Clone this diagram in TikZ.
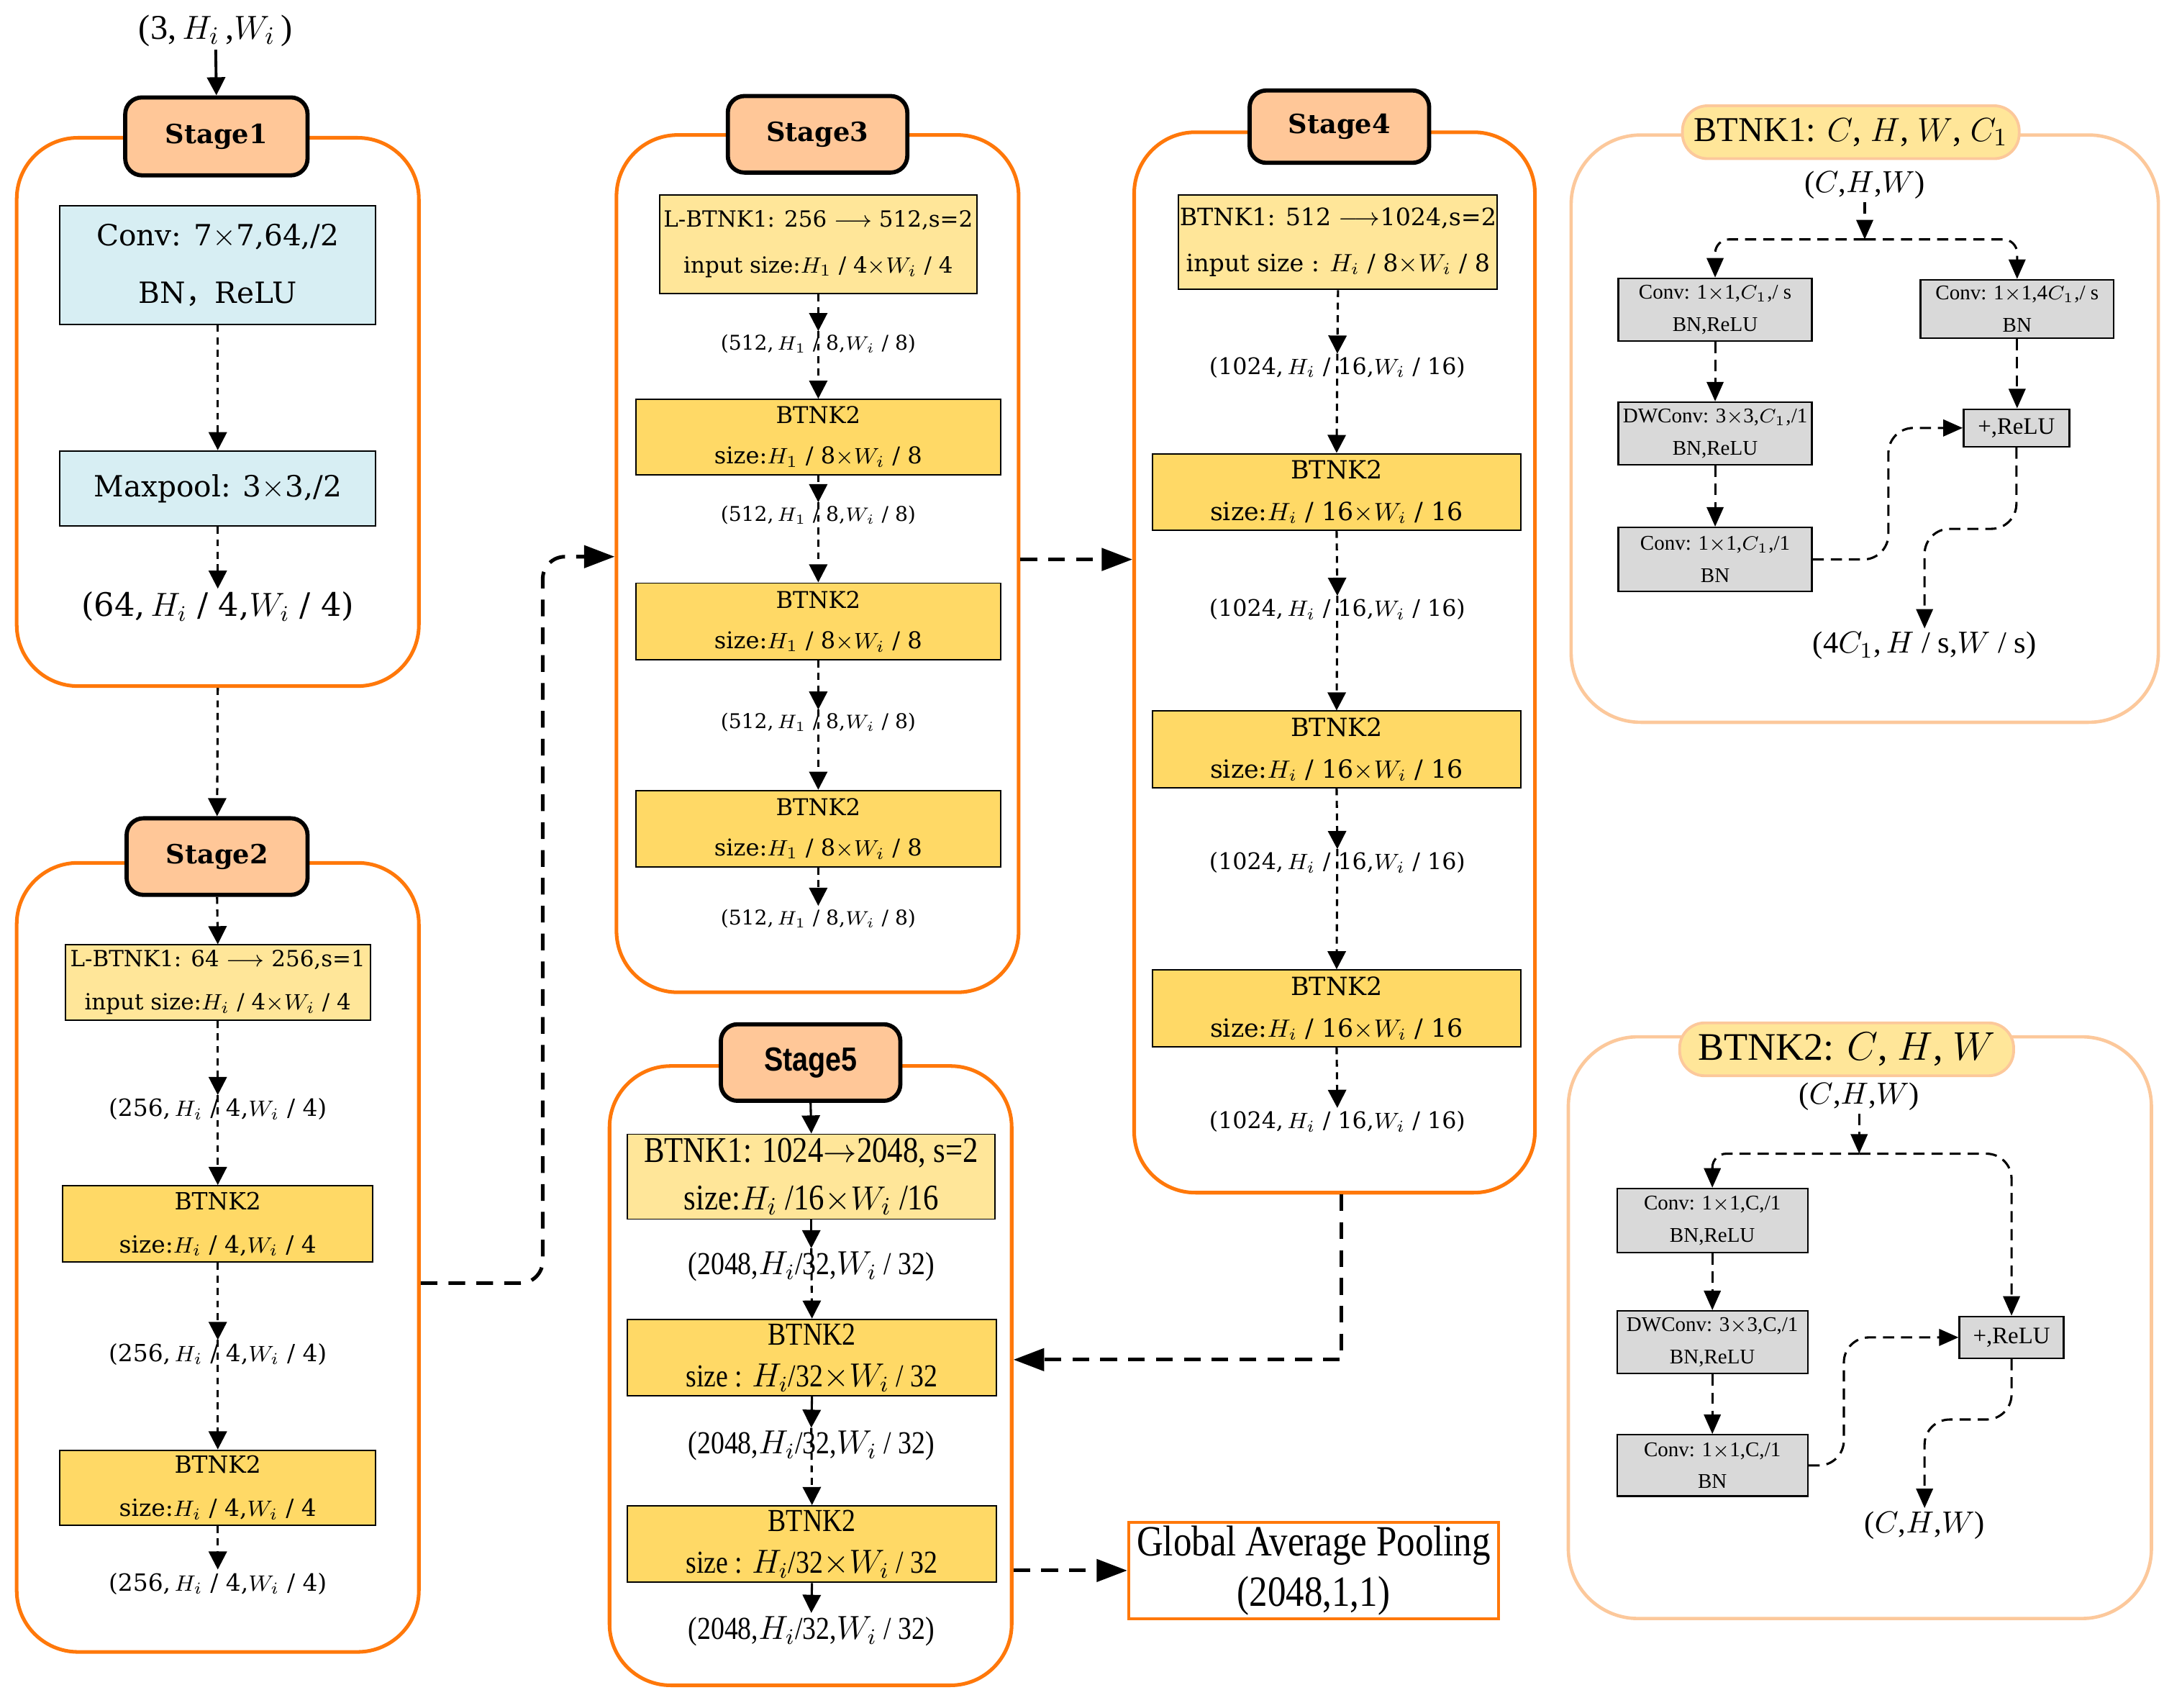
\documentclass[tikz,border=0pt]{standalone}
\usepackage{fontspec}
\setmainfont{Liberation Serif}
\newfontfamily\dvs{DejaVu Serif}
\newfontfamily\cond[FakeStretch=0.85]{Liberation Serif}
\newfontfamily\sansc[FakeStretch=0.85]{Liberation Sans}
\newfontfamily\cjk{Noto Sans CJK SC}
\usetikzlibrary{arrows.meta}
\definecolor{stor}{RGB}{255,120,10}
\definecolor{peach}{RGB}{255,199,152}
\definecolor{lblue}{RGB}{215,238,243}
\definecolor{lyel}{RGB}{255,230,153}
\definecolor{gold}{RGB}{255,217,102}
\definecolor{pgray}{RGB}{217,217,217}
\definecolor{pbord}{RGB}{252,200,155}
\newcommand\fs[2]{\fontsize{#1}{#2}\selectfont}
\begin{document}
\begin{tikzpicture}[x=0.5pt,y=-0.5pt,
  rect/.style args={#1,#2,#3,#4}{minimum width={(#3-#1)*0.5pt}, minimum height={(#4-#2)*0.5pt}, at={({(#1+#3)/2},{(#2+#4)/2})}},
  stagebox/.style={draw=stor, line width=1.3pt, rounded corners=22pt, inner sep=0pt},
  stagetab/.style={draw=black, line width=1.5pt, fill=peach, rounded corners=6pt, inner sep=0pt, font={\dvs\bfseries\fs{9.5}{11}}},
  bluebox/.style={draw=black, line width=0.5pt, fill=lblue, inner sep=0pt, align=center},
  lybox/.style={draw=black, line width=0.5pt, fill=lyel, inner sep=0pt, align=center},
  gbox/.style={draw=black, line width=0.5pt, fill=gold, inner sep=0pt, align=center},
  lab/.style={inner sep=1pt},
  arr/.style={-{Triangle[length=6.5pt,width=6.5pt]}},
  dsh/.style={line width=0.8pt, dash pattern=on 2.5pt off 2pt},
  big/.style={line width=1.3pt, dash pattern=on 6pt off 4pt, -{Triangle[length=11pt,width=8pt]}},
  panel/.style={draw=pbord, line width=1.2pt, rounded corners=25pt, inner sep=0pt},
  ptab/.style={draw=pbord, line width=1pt, fill=lyel, rounded corners=9pt, inner sep=0pt},
  pbox/.style={draw=black, line width=0.6pt, fill=pgray, inner sep=0pt, align=center, font={\fs{7.5}{11.5}}},
  pdsh/.style={line width=0.8pt, dash pattern=on 4pt off 2.5pt},
  parr/.style={-{Triangle[length=7pt,width=6pt]}}
]
\fill[white] (0,0) rectangle (1568,1227);
\useasboundingbox (0,0) rectangle (1568,1227);

% ---------------- Stage 1
\node[lab, font={\fs{12.5}{14}}] (in1) at (155,22) {(3,\,$H_i$\,,$W_i$\,)};
\node[stagebox, rect={12,99,301,493}] (s1o) {};
\node[stagetab, rect={90,70,221,126}] (s1t) {Stage1};
\node[bluebox, rect={43,148,270,233}, font={\dvs\fs{10.5}{20.5}}] (s1c) {Conv: 7$\times$7,64,/2\\BN{\cjk ，}ReLU};
\node[bluebox, rect={43,324,270,378}, font={\dvs\fs{10.5}{12}}] (s1p) {Maxpool: 3$\times$3,/2};
\node[lab, font={\dvs\fs{11.6}{13}}] (s1l) at (156.5,436) {(64,\,$H_i$ / 4,$W_i$ / 4)};
\draw[arr, line width=1pt] (in1.south) -- (s1t.north);
\draw[dsh,arr] (s1c.south) -- (s1p.north);
\draw[dsh,arr] (s1p.south) -- (s1l.north);

% ---------------- Stage 2
\node[stagebox, rect={12,620,301,1187}] (s2o) {};
\node[stagetab, rect={91,588,221,643}] (s2t) {Stage2};
\node[lybox, rect={47,679,266,733}, font={\dvs\fs{8}{15.5}}] (s2b1) {L-BTNK1: 64 $\longrightarrow$ 256,s=1\\input size:$H_i$ / 4$\times$$W_i$ / 4};
\node[lab, font={\dvs\fs{8.5}{10}}] (s2l1) at (156.5,797) {(256,\,$H_i$ / 4,$W_i$ / 4)};
\node[gbox, rect={45,852,268,907}, font={\dvs\fs{8.5}{15.5}}] (s2b2) {BTNK2\\size:$H_i$ / 4,$W_i$ / 4};
\node[lab, font={\dvs\fs{8.5}{10}}] (s2l2) at (156.5,973) {(256,\,$H_i$ / 4,$W_i$ / 4)};
\node[gbox, rect={43,1042,270,1096}, font={\dvs\fs{8.5}{15.5}}] (s2b3) {BTNK2\\size:$H_i$ / 4,$W_i$ / 4};
\node[lab, font={\dvs\fs{8.5}{10}}] (s2l3) at (156.5,1138) {(256,\,$H_i$ / 4,$W_i$ / 4)};
\draw[dsh,arr] (s1o.south) -- (s2t.north);
\draw[dsh,arr] (s2t.south) -- (s2b1.north);
\draw[dsh,arr] (s2b1.south) -- (s2l1.north);
\draw[dsh,arr] (s2l1.north) -- (s2b2.north);
\draw[dsh,arr] (s2b2.south) -- (s2l2.north);
\draw[dsh,arr] (s2l2.north) -- (s2b3.north);
\draw[dsh,arr] (s2b3.south) -- (s2l3.north);

% ---------------- Stage 3
\node[stagebox, rect={443,97,732,713}] (s3o) {};
\node[stagetab, rect={523,69,652,124}] (s3t) {Stage3};
\node[lybox, rect={474,140,702,211}, font={\dvs\fs{8}{16.5}}] (s3b1) {L-BTNK1: 256 $\longrightarrow$ 512,s=2\\input size:$H_1$ / 4$\times$$W_i$ / 4};
\node[lab, font={\dvs\fs{7.3}{9}}] (s3l1) at (588,247) {(512,\,$H_1$ / 8,$W_i$ / 8)};
\node[gbox, rect={457,287,719,341}, font={\dvs\fs{8.3}{14.5}}] (s3b2) {BTNK2\\size:$H_1$ / 8$\times$$W_i$ / 8};
\node[lab, font={\dvs\fs{7.3}{9}}] (s3l2) at (588,370) {(512,\,$H_1$ / 8,$W_i$ / 8)};
\node[gbox, rect={457,419,719,474}, font={\dvs\fs{8.3}{14.5}}] (s3b3) {BTNK2\\size:$H_1$ / 8$\times$$W_i$ / 8};
\node[lab, font={\dvs\fs{7.3}{9}}] (s3l3) at (588,519) {(512,\,$H_1$ / 8,$W_i$ / 8)};
\node[gbox, rect={457,568,719,623}, font={\dvs\fs{8.3}{14.5}}] (s3b4) {BTNK2\\size:$H_1$ / 8$\times$$W_i$ / 8};
\node[lab, font={\dvs\fs{7.3}{9}}] (s3l4) at (588,660) {(512,\,$H_1$ / 8,$W_i$ / 8)};
\draw[dsh,arr] (s3b1.south) -- (s3l1.north);
\draw[dsh,arr] (s3l1.north) -- (s3b2.north);
\draw[dsh,arr] (s3b2.south) -- (s3l2.north);
\draw[dsh,arr] (s3l2.north) -- (s3b3.north);
\draw[dsh,arr] (s3b3.south) -- (s3l3.north);
\draw[dsh,arr] (s3l3.north) -- (s3b4.north);
\draw[dsh,arr] (s3b4.south) -- (s3l4.north);

% ---------------- Stage 4
\node[stagebox, rect={815,95,1103,857}] (s4o) {};
\node[stagetab, rect={898,65,1027,117}] (s4t) {Stage4};
\node[lybox, rect={847,140,1076,208}, font={\dvs\fs{8.6}{16.5}}] (s4b1) {BTNK1: 512 $\longrightarrow$1024,s=2\\input size : $H_i$ / 8$\times$$W_i$ / 8};
\node[lab, font={\dvs\fs{8.2}{10}}] (s4l1) at (961,264) {(1024,\,$H_i$ / 16,$W_i$ / 16)};
\node[gbox, rect={828,326,1093,381}, font={\dvs\fs{9}{15}}] (s4b2) {BTNK2\\size:$H_i$ / 16$\times$$W_i$ / 16};
\node[lab, font={\dvs\fs{8.2}{10}}] (s4l2) at (961,438) {(1024,\,$H_i$ / 16,$W_i$ / 16)};
\node[gbox, rect={828,511,1093,566}, font={\dvs\fs{9}{15}}] (s4b3) {BTNK2\\size:$H_i$ / 16$\times$$W_i$ / 16};
\node[lab, font={\dvs\fs{8.2}{10}}] (s4l3) at (961,620) {(1024,\,$H_i$ / 16,$W_i$ / 16)};
\node[gbox, rect={828,697,1093,752}, font={\dvs\fs{9}{15}}] (s4b4) {BTNK2\\size:$H_i$ / 16$\times$$W_i$ / 16};
\node[lab, font={\dvs\fs{8.2}{10}}] (s4l4) at (961,806) {(1024,\,$H_i$ / 16,$W_i$ / 16)};
\draw[dsh,arr] (s4b1.south) -- (s4l1.north);
\draw[dsh,arr] (s4l1.north) -- (s4b2.north);
\draw[dsh,arr] (s4b2.south) -- (s4l2.north);
\draw[dsh,arr] (s4l2.north) -- (s4b3.north);
\draw[dsh,arr] (s4b3.south) -- (s4l3.north);
\draw[dsh,arr] (s4l3.north) -- (s4b4.north);
\draw[dsh,arr] (s4b4.south) -- (s4l4.north);

% ---------------- Stage 5
\node[stagebox, rect={438,766,727,1211}] (s5o) {};
\node[stagetab, rect={518,736,647,791}, font={\sansc\bfseries\fs{12}{14}}] (s5t) {Stage5};
\node[lybox, rect={451,815,715,876}, font={\cond\fs{13}{17}}] (s5b1) {BTNK1: 1024$\rightarrow$2048, s=2\\size:$H_i$ /16$\times$$W_i$ /16};
\node[lab, font={\cond\fs{11.5}{13}}] (s5l1) at (583,910) {(2048,$H_i$/32,$W_i$ / 32)};
\node[gbox, rect={451,948,716,1003}, font={\cond\fs{11.5}{15}}] (s5b2) {BTNK2\\size : $H_i$/32$\times$$W_i$ / 32};
\node[lab, font={\cond\fs{11.5}{13}}] (s5l2) at (583,1039) {(2048,$H_i$/32,$W_i$ / 32)};
\node[gbox, rect={451,1082,716,1137}, font={\cond\fs{11.5}{15}}] (s5b3) {BTNK2\\size : $H_i$/32$\times$$W_i$ / 32};
\node[lab, font={\cond\fs{11.5}{13}}] (s5l3) at (583,1172) {(2048,$H_i$/32,$W_i$ / 32)};
\draw[arr, line width=0.8pt] (s5t.south) -- (s5b1.north);
\draw[arr, line width=0.8pt] (s5b1.south) -- (s5l1.north);
\draw[dsh,arr] (s5l1.north) -- (s5b2.north);
\draw[arr, line width=0.8pt] (s5b2.south) -- (s5l2.north);
\draw[dsh,arr] (s5l2.north) -- (s5b3.north);
\draw[arr, line width=0.8pt] (s5b3.south) -- (s5l3.north);

% ---------------- Global average pooling
\node[draw=stor, line width=1pt, fill=white, inner sep=0pt, align=center, rect={811,1094,1077,1163}, font={\cond\fs{15.5}{18}}] (gap) {Global Average Pooling\\(2048,1,1)};

% ---------------- stage connectors
\coordinate (c23a) at (390,922);
\coordinate (c23b) at (390,400);
\draw[big, rounded corners=8pt] (s2o.east |- c23a) -- (c23a) -- (c23b) -- (s3o.west |- c23b);
\coordinate (c34) at (770,402);
\draw[big] (s3o.east |- c34) -- (s4o.west |- c34);
\coordinate (c45) at (964,977);
\draw[big] (s4o.south -| c45) -- (c45) -- (s5o.east |- c45);
\draw[big] (s5o.east |- gap.west) -- (gap.west);

% ---------------- BTNK1 panel
\node[panel, rect={1129,97,1551,519}] (p1) {};
\node[ptab, rect={1209,76,1451,114}, font={\fs{12.5}{15}}] (p1t) {BTNK1: $C$, $H$, $W$, $C_1$};
\node[lab, font={\fs{11}{13}}] (p1in) at (1340,133) {($C$,$H$,$W$)};
\coordinate (p1s) at (1340,172);
\node[pbox, rect={1163,200,1302,245}] (p1c1) {Conv: 1$\times$1,$C_1$,/ s\\BN,ReLU};
\node[pbox, rect={1380,201,1519,243}] (p1r) {Conv: 1$\times$1,4$C_1$,/ s\\BN};
\node[pbox, rect={1163,289,1302,334}] (p1dw) {DWConv: 3$\times$3,$C_1$,/1\\BN,ReLU};
\node[pbox, rect={1163,379,1302,425}] (p1c3) {Conv: 1$\times$1,$C_1$,/1\\BN};
\node[pbox, rect={1411,294,1487,321}, font={\fs{8.5}{10}}] (p1p) {+,ReLU};
\node[lab, font={\fs{11}{13}}] (p1out) at (1383,464) {(4$C_1$,\,$H$ / s,$W$ / s)};
\draw[pdsh,parr] (p1in.south) -- (p1s);
\draw[pdsh,parr,rounded corners=5pt] (p1s) -| (p1c1.north);
\draw[pdsh,parr,rounded corners=5pt] (p1s) -| (p1r.north);
\draw[pdsh,parr] (p1c1.south) -- (p1dw.north);
\draw[pdsh,parr] (p1dw.south) -- (p1c3.north);
\draw[pdsh,parr] (p1r.south) -- (p1p.north -| p1r.south);
\coordinate (p1m) at (1357,0);
\draw[pdsh,parr,rounded corners=9pt] (p1c3.east) -- (p1c3.east -| p1m) -- (p1p.west -| p1m) -- (p1p.west);
\coordinate (p1n) at (0,380);
\draw[pdsh,parr,rounded corners=9pt] (p1p.south) -- (p1p.south |- p1n) -- (p1out.north |- p1n) -- (p1out.north);

% ---------------- BTNK2 panel
\node[panel, rect={1127,745,1546,1163}] (p2) {};
\node[ptab, rect={1207,735,1447,773}, font={\fs{14}{16}}] (p2t) {BTNK2: $C$, $H$, $W$};
\node[lab, font={\fs{11}{13}}] (p2in) at (1336,788) {($C$,$H$,$W$)};
\coordinate (p2s) at (1336,829);
\node[pbox, rect={1162,854,1299,900}] (p2c1) {Conv: 1$\times$1,C,/1\\BN,ReLU};
\node[pbox, rect={1162,942,1299,987}] (p2dw) {DWConv: 3$\times$3,C,/1\\BN,ReLU};
\node[pbox, rect={1162,1031,1299,1075}] (p2c3) {Conv: 1$\times$1,C,/1\\BN};
\node[pbox, rect={1408,946,1483,976}, font={\fs{8.5}{10}}] (p2p) {+,ReLU};
\node[lab, font={\fs{11}{13}}] (p2out) at (1383,1096) {($C$,$H$,$W$)};
\draw[pdsh,parr] (p2in.south) -- (p2s);
\draw[pdsh,parr,rounded corners=5pt] (p2s) -| (p2c1.north);
\draw[pdsh,parr,rounded corners=9pt] (p2s) -| (p2p.north);
\draw[pdsh,parr] (p2c1.south) -- (p2dw.north);
\draw[pdsh,parr] (p2dw.south) -- (p2c3.north);
\coordinate (p2m) at (1325,0);
\draw[pdsh,parr,rounded corners=9pt] (p2c3.east) -- (p2c3.east -| p2m) -- (p2p.west -| p2m) -- (p2p.west);
\coordinate (p2n) at (0,1020);
\draw[pdsh,parr,rounded corners=9pt] (p2p.south) -- (p2p.south |- p2n) -- (p2out.north |- p2n) -- (p2out.north);
\end{tikzpicture}
\end{document}
